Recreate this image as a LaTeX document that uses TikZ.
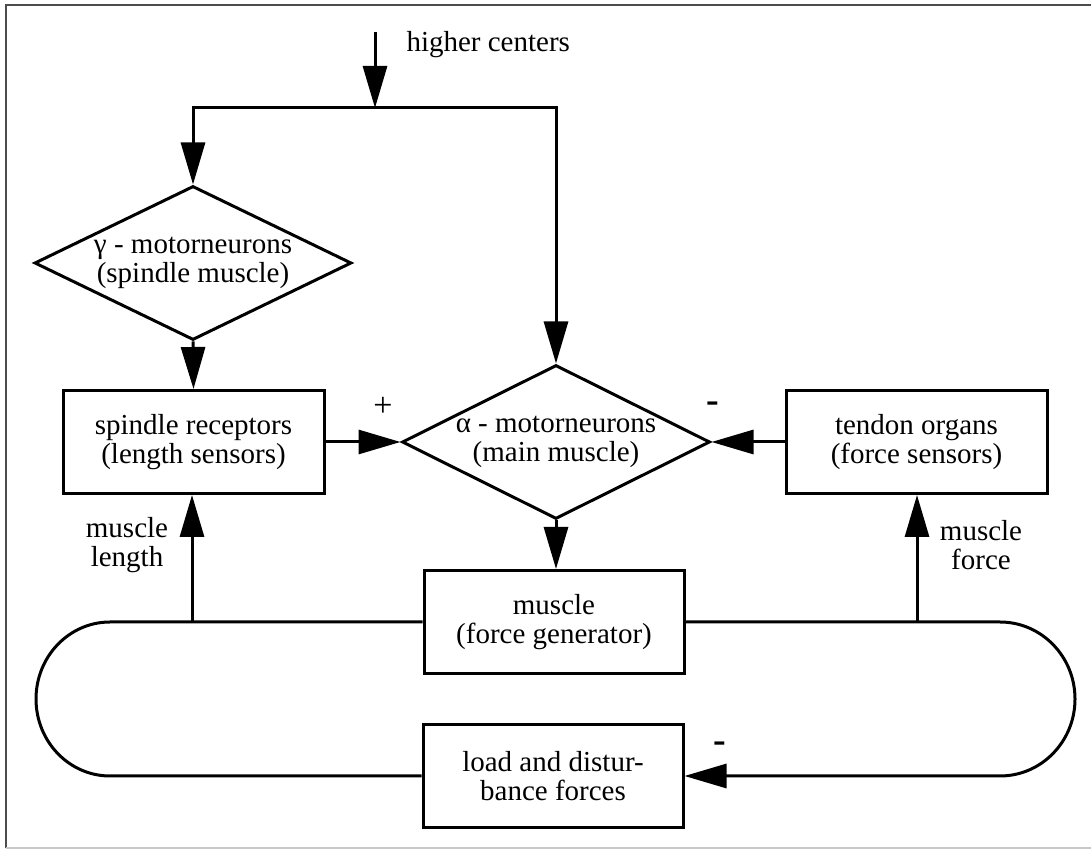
\documentclass[tikz,border=0pt]{standalone}
\usepackage{fontspec}
\setmainfont{Liberation Serif}
\usetikzlibrary{arrows.meta,shapes.geometric}
\begin{document}
\begin{tikzpicture}[x=1pt,y=1pt,
  line width=3pt,
  every node/.style={font=\fontsize{29}{29}\selectfont},
  blockbox/.style={draw, rectangle, minimum width=261pt, minimum height=103pt, inner sep=0pt, align=center},
  decision/.style={draw, diamond, inner xsep=-50pt, inner ysep=0pt, align=center},
  flow/.style={-{Triangle[length=42pt,width=24pt]}},
  plussign/.style={font=\fontsize{34}{34}\selectfont, inner sep=0pt},
  minussign/.style={font=\fontsize{38}{38}\selectfont\bfseries, inner sep=0pt},
  caption/.style={align=center, inner sep=0pt},
]
\useasboundingbox (0,0) rectangle (1091,850);
% frame
\draw[line width=1.6pt, black!70] (1091,845) -- (6,845) -- (6,2);
\draw[line width=1.6pt, black!22] (6,2) -- (1091,2);

% blocks
\node[decision, minimum width=317pt, minimum height=154pt] (gamma) at (193,587)
  {γ - motorneurons\\(spindle muscle)};
\node[decision, minimum width=308pt, minimum height=154pt] (alpha) at (556,408)
  {α - motorneurons\\(main muscle)};
\node[blockbox] (spindle) at (193.5,408) {spindle receptors\\(length sensors)};
\node[blockbox] (tendon) at (916.5,408) {tendon organs\\(force sensors)};
\node[blockbox, minimum width=260pt] (muscle) at (554,228) {muscle\\(force generator)};
\node[blockbox, minimum width=260pt] (load) at (553,74) {load and distur-\\bance forces};

% input from higher centers
\coordinate (hc) at (375,818);
\coordinate (split) at (375,742);
\node[anchor=base west, inner sep=0pt] (hclabel) at (405,798) {higher centers};
\draw[flow] (hc) -- (split);
\draw[flow] (split) -| (gamma.north);
\draw[flow] (split) -| (alpha.north);

% forward path
\draw[flow] (gamma.south) -- (spindle.north);
\draw[flow] (spindle.east) -- (alpha.west);
\draw[flow] (tendon.west) -- (alpha.east);
\draw[flow] (alpha.south) -- (alpha.south |- muscle.north);

% mechanical loop
\coordinate (lenfoot) at (192,228);
\coordinate (forcefoot) at (917,228);
\coordinate (rtop) at (1000,228);
\draw (load.west) -- (110,74)
  arc[start angle=270, end angle=90, x radius=74, y radius=77] -- (muscle.west);
\draw[flow] (muscle.east) -- (rtop)
  arc[start angle=90, end angle=-90, x radius=75, y radius=77] -- (load.east);
\draw[flow] (lenfoot) -- (lenfoot |- spindle.south);
\draw[flow] (forcefoot) -- (forcefoot |- tendon.south);

% labels
\node[caption] (lenlabel) at (127,305) {muscle\\length};
\node[caption] (forcelabel) at (981,305) {muscle\\force};
\node[plussign] (plus) at (383,443) {+};
\node[minussign] (minusa) at (713,443) {-};
\node[minussign] (minusb) at (720,103) {-};
\end{tikzpicture}
\end{document}
